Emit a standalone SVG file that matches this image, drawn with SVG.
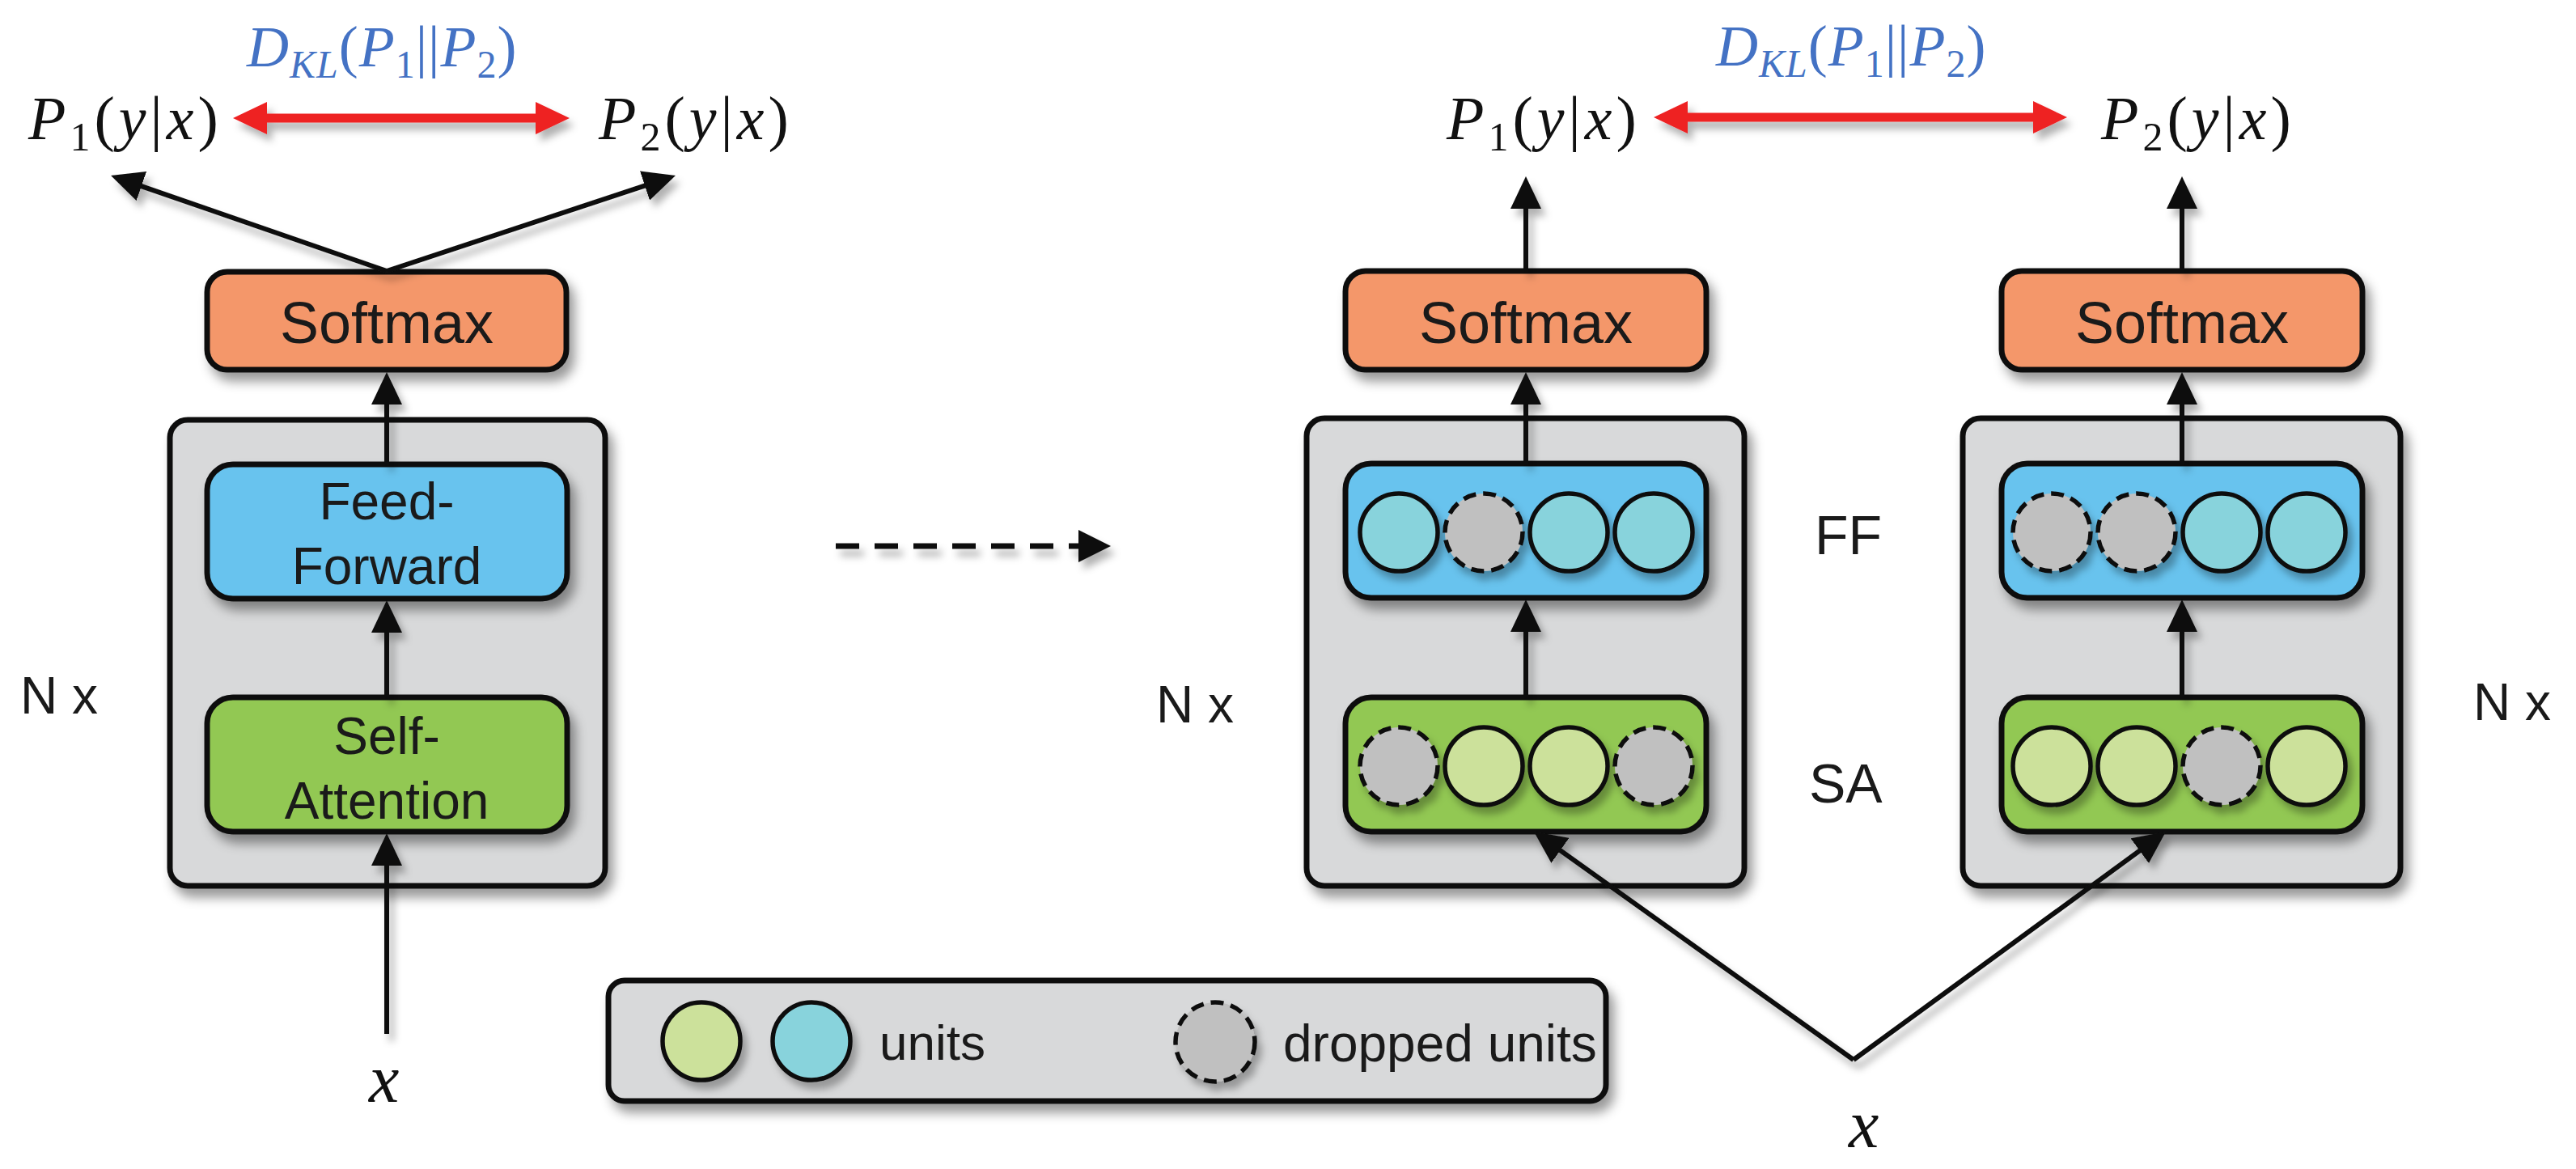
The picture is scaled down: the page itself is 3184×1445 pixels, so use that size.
<svg xmlns="http://www.w3.org/2000/svg" width="3184" height="1445" viewBox="0 0 3184 1445">
<style>
.box{stroke:#111;stroke-width:7}
.sm{fill:#F4976B}
.ff{fill:#67C3EE}
.sa{fill:#92C852}
.gr{fill:#D8D9DA}
.u{stroke:#111;stroke-width:5.5}
.ug{fill:#CCE19B}
.uc{fill:#88D3DC}
.ud{fill:#C0C0C0;stroke-dasharray:16 9}
.lbl{font-family:"Liberation Sans",Arial,sans-serif;fill:#1a1a1a}
.t64{font-size:64px}
.t72{font-size:72px}
.mid{text-anchor:middle}
.math{font-family:"Liberation Serif","Times New Roman",serif;fill:#111;font-size:76px;letter-spacing:5px}
.kl{font-family:"Liberation Serif","Times New Roman",serif;fill:#4472C4;font-size:72px;letter-spacing:1px}
.it{font-style:italic}
.conn{stroke:#111;stroke-width:6;fill:none}
.red{stroke:#EE2024;stroke-width:11;fill:none}
</style>
<defs>
<filter id="sh" x="-20%" y="-20%" width="150%" height="150%">
<feDropShadow dx="7" dy="11" stdDeviation="7" flood-color="#000" flood-opacity="0.4"/>
</filter>
<filter id="shl" x="-20%" y="-20%" width="150%" height="150%">
<feDropShadow dx="6" dy="9" stdDeviation="5" flood-color="#000" flood-opacity="0.3"/>
</filter>
<marker id="ah" viewBox="0 0 40 38" refX="10" refY="19" markerWidth="40" markerHeight="38" markerUnits="userSpaceOnUse" orient="auto">
<path d="M0,0 L40,19 L0,38 z" fill="#111"/>
</marker>
<marker id="ahd" viewBox="0 0 40 40" refX="1" refY="20" markerWidth="40" markerHeight="40" markerUnits="userSpaceOnUse" orient="auto">
<path d="M0,0 L40,20 L0,40 z" fill="#111"/>
</marker>
<marker id="ahr" viewBox="0 0 42 40" refX="10" refY="20" markerWidth="42" markerHeight="40" markerUnits="userSpaceOnUse" orient="auto-start-reverse">
<path d="M0,0 L42,20 L0,40 z" fill="#EE2024"/>
</marker>
</defs>
<rect width="3184" height="1445" fill="#fff"/>

<!-- Left model -->
<g id="left-block" filter="url(#sh)">
<rect class="box gr" x="210" y="519" width="538" height="576" rx="22"/>
</g>
<g id="left-softmax">
<rect class="box sm" x="256" y="336" width="444" height="121" rx="25" filter="url(#sh)"/>
<text class="lbl t72 mid" x="478" y="424">Softmax</text>
</g>
<g id="left-ff">
<rect class="box ff" x="256" y="574" width="445" height="166" rx="32" filter="url(#sh)"/>
<text class="lbl t64 mid" x="478" y="642">Feed-</text>
<text class="lbl t64 mid" x="478" y="722">Forward</text>
</g>
<g id="left-sa">
<rect class="box sa" x="256" y="862" width="445" height="166" rx="32" filter="url(#sh)"/>
<text class="lbl t64 mid" x="478" y="932">Self-</text>
<text class="lbl t64 mid" x="478" y="1012">Attention</text>
</g>
<g id="left-nx"><text class="lbl t64" x="25" y="882">N x</text></g>
<g id="left-x"><text class="math it" x="456" y="1362" style="font-size:84px">x</text></g>
<g id="left-p1"><text class="math" x="35" y="172"><tspan class="it">P</tspan><tspan font-size="50" dy="14">1</tspan><tspan dy="-14">(</tspan><tspan class="it">y</tspan>|<tspan class="it">x</tspan>)</text></g>
<g id="left-p2"><text class="math" x="740" y="172"><tspan class="it">P</tspan><tspan font-size="50" dy="14">2</tspan><tspan dy="-14">(</tspan><tspan class="it">y</tspan>|<tspan class="it">x</tspan>)</text></g>
<g id="left-kl"><text class="kl" x="305" y="82"><tspan class="it">D</tspan><tspan class="it" font-size="48" dy="14">KL</tspan><tspan dy="-14">(</tspan><tspan class="it">P</tspan><tspan font-size="48" dy="14">1</tspan><tspan dy="-14">||</tspan><tspan class="it">P</tspan><tspan font-size="48" dy="14">2</tspan><tspan dy="-14">)</tspan></text></g>

<!-- Right model 1 -->
<g id="r1-block" filter="url(#sh)">
<rect class="box gr" x="1615" y="517" width="541" height="578" rx="22"/>
</g>
<g id="r1-softmax">
<rect class="box sm" x="1663" y="335" width="446" height="122" rx="25" filter="url(#sh)"/>
<text class="lbl t72 mid" x="1886" y="424">Softmax</text>
</g>
<g id="r1-ff">
<rect class="box ff" x="1663" y="573" width="446" height="166" rx="32" filter="url(#sh)"/>
<g filter="url(#shl)">
<circle class="u uc" cx="1729" cy="658" r="48"/>
<circle class="u ud" cx="1834" cy="658" r="48"/>
<circle class="u uc" cx="1939" cy="658" r="48"/>
<circle class="u uc" cx="2044" cy="658" r="48"/>
</g>
</g>
<g id="r1-sa">
<rect class="box sa" x="1663" y="862" width="446" height="166" rx="32" filter="url(#sh)"/>
<g filter="url(#shl)">
<circle class="u ud" cx="1729" cy="947" r="48"/>
<circle class="u ug" cx="1834" cy="947" r="48"/>
<circle class="u ug" cx="1939" cy="947" r="48"/>
<circle class="u ud" cx="2044" cy="947" r="48"/>
</g>
</g>
<g id="r1-p1"><text class="math" x="1788" y="172"><tspan class="it">P</tspan><tspan font-size="50" dy="14">1</tspan><tspan dy="-14">(</tspan><tspan class="it">y</tspan>|<tspan class="it">x</tspan>)</text></g>

<!-- Right model 2 -->
<g id="r2-block" filter="url(#sh)">
<rect class="box gr" x="2426" y="517" width="541" height="578" rx="22"/>
</g>
<g id="r2-softmax">
<rect class="box sm" x="2474" y="335" width="446" height="122" rx="25" filter="url(#sh)"/>
<text class="lbl t72 mid" x="2697" y="424">Softmax</text>
</g>
<g id="r2-ff">
<rect class="box ff" x="2474" y="573" width="446" height="166" rx="32" filter="url(#sh)"/>
<g filter="url(#shl)">
<circle class="u ud" cx="2536" cy="658" r="48"/>
<circle class="u ud" cx="2641" cy="658" r="48"/>
<circle class="u uc" cx="2746" cy="658" r="48"/>
<circle class="u uc" cx="2851" cy="658" r="48"/>
</g>
</g>
<g id="r2-sa">
<rect class="box sa" x="2474" y="862" width="446" height="166" rx="32" filter="url(#sh)"/>
<g filter="url(#shl)">
<circle class="u ug" cx="2536" cy="947" r="48"/>
<circle class="u ug" cx="2641" cy="947" r="48"/>
<circle class="u ud" cx="2746" cy="947" r="48"/>
<circle class="u ug" cx="2851" cy="947" r="48"/>
</g>
</g>
<g id="r2-p2"><text class="math" x="2597" y="172"><tspan class="it">P</tspan><tspan font-size="50" dy="14">2</tspan><tspan dy="-14">(</tspan><tspan class="it">y</tspan>|<tspan class="it">x</tspan>)</text></g>

<g id="right-kl"><text class="kl" x="2121" y="81"><tspan class="it">D</tspan><tspan class="it" font-size="48" dy="14">KL</tspan><tspan dy="-14">(</tspan><tspan class="it">P</tspan><tspan font-size="48" dy="14">1</tspan><tspan dy="-14">||</tspan><tspan class="it">P</tspan><tspan font-size="48" dy="14">2</tspan><tspan dy="-14">)</tspan></text></g>
<g id="label-ff"><text class="lbl" x="2243" y="685" style="font-size:68px">FF</text></g>
<g id="label-sa"><text class="lbl" x="2236" y="992" style="font-size:68px">SA</text></g>
<g id="mid-nx"><text class="lbl t64" x="1429" y="893">N x</text></g>
<g id="right-nx"><text class="lbl t64" x="3057" y="890">N x</text></g>
<g id="right-x"><text class="math it" x="2285" y="1418" style="font-size:84px">x</text></g>

<!-- Legend -->
<g id="legend">
<rect class="box gr" x="752" y="1212" width="1233" height="149" rx="20" filter="url(#sh)"/>
<g filter="url(#shl)">
<circle class="u ug" cx="867" cy="1287" r="48"/>
<circle class="u uc" cx="1003" cy="1287" r="48"/>
<circle class="u ud" cx="1502" cy="1288" r="49"/>
</g>
<text class="lbl" x="1087" y="1310" style="font-size:62px">units</text>
<text class="lbl t64" x="1586" y="1312">dropped units</text>
</g>

<!-- Connectors -->
<g id="connectors" filter="url(#shl)">
<line class="conn" x1="478" y1="335" x2="165.4" y2="226.8" marker-end="url(#ah)"/>
<line class="conn" x1="478" y1="335" x2="806.5" y2="226.4" marker-end="url(#ah)"/>
<line class="conn" x1="478" y1="574" x2="478" y2="490" marker-end="url(#ah)"/>
<line class="conn" x1="478" y1="862" x2="478" y2="772" marker-end="url(#ah)"/>
<line class="conn" x1="478" y1="1278" x2="478" y2="1060" marker-end="url(#ah)"/>
<line class="conn" x1="1886" y1="334" x2="1886" y2="248" marker-end="url(#ah)"/>
<line class="conn" x1="1886" y1="573" x2="1886" y2="490" marker-end="url(#ah)"/>
<line class="conn" x1="1886" y1="862" x2="1886" y2="771" marker-end="url(#ah)"/>
<line class="conn" x1="2697" y1="334" x2="2697" y2="248" marker-end="url(#ah)"/>
<line class="conn" x1="2697" y1="573" x2="2697" y2="490" marker-end="url(#ah)"/>
<line class="conn" x1="2697" y1="862" x2="2697" y2="771" marker-end="url(#ah)"/>
<line class="conn" x1="2291" y1="1310" x2="1920.4" y2="1045.4" marker-end="url(#ah)"/>
<line class="conn" x1="2291" y1="1310" x2="2652.8" y2="1045.7" marker-end="url(#ah)"/>
<line class="conn" x1="1033" y1="675" x2="1334" y2="675" style="stroke-width:7;stroke-dasharray:29 19" marker-end="url(#ahd)"/>
<line class="red" x1="320" y1="146" x2="672" y2="146" marker-start="url(#ahr)" marker-end="url(#ahr)"/>
<line class="red" x1="2076" y1="145" x2="2523" y2="145" marker-start="url(#ahr)" marker-end="url(#ahr)"/>
</g>
</svg>
